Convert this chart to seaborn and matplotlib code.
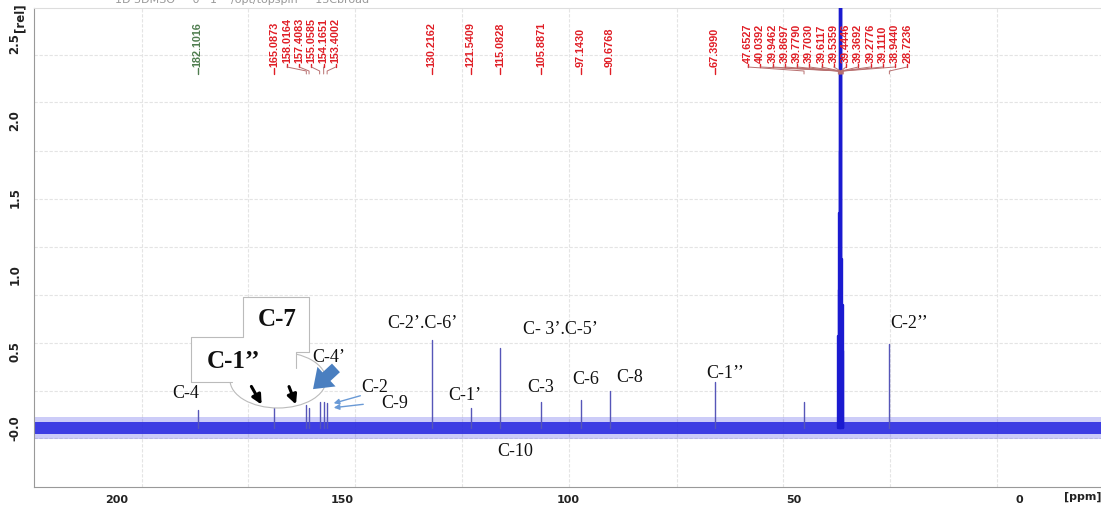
import matplotlib
matplotlib.use("Agg")
import matplotlib.pyplot as plt
import matplotlib.patches as mpatches
from matplotlib.ticker import MultipleLocator
import pandas as pd
import seaborn as sns

# ---------------- data ----------------
peak_ppm = [182.1016, 165.0873, 158.0164, 157.4083, 155.0585, 154.1651, 153.4002,
            130.2162, 121.5409, 115.0828, 105.8871, 97.1430, 90.6768, 67.3990,
            47.6527, 28.7236]
peak_height = [0.12, 0.19, 0.15, 0.13, 0.17, 0.17, 0.16,
               0.57, 0.13, 0.52, 0.17, 0.18, 0.24, 0.30,
               0.17, 0.55]
solvent_ppm = [40.0392, 39.9462, 39.8697, 39.7790, 39.7030, 39.6117, 39.5359,
               39.4446, 39.3692, 39.2776, 39.1110, 38.9440]
solvent_height = [0.6, 0.9, 1.4, 1.8, 3.0, 3.5, 4.0, 4.0, 3.5, 1.1, 0.8, 0.5]

single_labels = ["182.1016", "165.0873", "130.2162", "121.5409", "115.0828",
                 "105.8871", "97.1430", "90.6768", "67.3990"]
group1_labels = ["158.0164", "157.4083", "155.0585", "154.1651", "153.4002"]
group2_labels = ["47.6527", "40.0392", "39.9462", "39.8697", "39.7790", "39.7030",
                 "39.6117", "39.5359", "39.4446", "39.3692", "39.2776", "39.1110",
                 "38.9440", "28.7236"]

noise_outer = 0.07
noise_inner = 0.04

x_major = [200, 150, 100, 50, 0]
y_major = [0.0, 0.5, 1.0, 1.5, 2.0, 2.5]
y_major_labels = ["-0.0", "0.5", "1.0", "1.5", "2.0", "2.5"]

grid_x = [194.5, 171.0, 147.3, 123.4, 99.8, 75.8, 52.3, 28.6, 4.9]
grid_y = [2.43, 2.12, 1.80, 1.49, 1.18, 0.866, 0.553, 0.241, -0.065]

# ---------------- figure ----------------
sns.set_style("white")
W, H = 1101, 508
fig = plt.figure(figsize=(W / 100, H / 100), dpi=100)
ax = fig.add_axes([34 / W, 1 - 487 / H, 1 - 34 / W, (487 - 8) / H])

def P(x, y):
    return (x / W, 1 - y / H)

def rows(ppms, hs, grp):
    r = []
    for i, (p, h) in enumerate(zip(ppms, hs)):
        r += [(p, 0.0, grp, i), (p, h, grp, i)]
    return r

df = pd.DataFrame(rows(peak_ppm, peak_height, "c") + rows(solvent_ppm, solvent_height, "s"),
                  columns=["ppm", "intensity", "grp", "peak"])

xmin, xmax = 218.4, -18.2
ymin, ymax = -0.384, 2.734

for gx in grid_x:
    ax.axvline(gx, color="#e4e4e4", lw=0.8, ls=(0, (3, 1.5)), zorder=0)
for gy in grid_y:
    ax.axhline(gy, color="#e4e4e4", lw=0.8, ls=(0, (3, 1.5)), zorder=0)

# baseline noise band
ax.fill_between([xmin, xmax], -noise_outer, noise_outer, color="#4848e6", alpha=0.28, lw=0, zorder=2)
ax.fill_between([xmin, xmax], -noise_inner, noise_inner, color="#2424e0", alpha=0.85, lw=0, zorder=2)

sns.lineplot(data=df[df.grp == "c"], x="ppm", y="intensity", units="peak", sort=False,
             estimator=None, color="#5656b8", lw=1.0, ax=ax, zorder=3)
sns.lineplot(data=df[df.grp == "s"], x="ppm", y="intensity", units="peak", sort=False,
             estimator=None, color="#1a1ad0", lw=1.7, ax=ax, zorder=6)
ax.set_xlim(xmin, xmax)
ax.set_ylim(ymin, ymax)
ax.set_xlabel("")
ax.set_ylabel("")

# axes styling
ax.spines["right"].set_visible(False)
ax.spines["top"].set_color("#dddddd")
ax.spines["left"].set_color("#999999")
ax.spines["bottom"].set_color("#999999")
ax.set_xticks(x_major)
ax.set_xticklabels([str(v) for v in x_major], fontsize=8, fontweight="bold", color="#222222")
ax.xaxis.set_minor_locator(MultipleLocator(10))
ax.set_yticks(y_major)
ax.set_yticklabels(y_major_labels, rotation=90, va="center", fontsize=8.5, fontweight="bold",
                   color="#222222")
ax.yaxis.set_minor_locator(MultipleLocator(0.1))
ax.tick_params(axis="both", which="both", direction="out", color="#999999", width=0.8)
ax.tick_params(axis="x", which="both", length=4, pad=2)
ax.tick_params(axis="y", which="major", length=6, pad=3)
ax.tick_params(axis="y", which="minor", length=5)

fig.text(*P(1083, 497), "[ppm]", fontsize=8, fontweight="bold", ha="center", va="center", color="#222222")
fig.text(*P(20, 18), "[rel]", fontsize=8.5, fontweight="bold", rotation=90, ha="center", va="center",
         color="#222222")
fig.text(*P(115, 3), "1D 3DMSO     0   1    /opt/topspin     13Cbroad", fontsize=8, color="#999999",
         ha="left", va="baseline")

# ---------------- peak labels at top ----------------
fig.canvas.draw()
def px_of(ppm):
    return ax.transData.transform((ppm, 0))[0]

lab_font = dict(family=["Liberation Sans", "DejaVu Sans"], fontsize=7.8, fontweight="bold",
                rotation=90, ha="center", va="bottom")
red = "#e01e26"
for lab in single_labels:
    x = px_of(float(lab))
    col = "#4f7d4f" if lab == "182.1016" else red
    fig.text(*P(x, 67), lab, color=col, **lab_font)
    fig.add_artist(plt.Line2D([x / W, x / W], [1 - 68 / H, 1 - 74 / H], color=col, lw=1.0))

def group(labels, x0, step):
    for i, lab in enumerate(labels):
        lx = x0 + i * step
        x = px_of(float(lab))
        fig.text(*P(lx, 63), lab, color=red, **lab_font)
        fig.add_artist(plt.Line2D([lx / W, lx / W], [1 - 64 / H, 1 - 67 / H], color=red, lw=1.0))
        fig.add_artist(plt.Line2D([lx / W, x / W, x / W], [1 - 67 / H, 1 - 71 / H, 1 - 74 / H],
                                  color="#b87070", lw=0.7))

group(group1_labels, 287, 12.2)
group(group2_labels, 748, 12.25)

# ---------------- assignment annotations ----------------
serif = dict(family=["Liberation Serif", "DejaVu Serif"], color="#111111", ha="center", va="center")
ann = [("C-4", 186, 393), ("C-2\u2019.C-6\u2019", 422, 323), ("C- 3\u2019.C-5\u2019", 560, 330),
       ("C-1\u2019", 465, 395), ("C-3", 541, 387), ("C-6", 586, 380), ("C-8", 630, 378),
       ("C-1\u2019\u2019", 725, 373), ("C-2\u2019\u2019", 909, 323), ("C-2", 375, 387),
       ("C-9", 395, 404), ("C-10", 515, 452), ("C-4\u2019", 329, 358)]
for t, x, y in ann:
    fig.text(*P(x, y), t, fontsize=13, zorder=8, **serif)

# callout shape
ell = mpatches.Ellipse(P(278, 380), 96 / W, 56 / H, transform=fig.transFigure,
                       facecolor="white", edgecolor="#bbbbbb", lw=0.8, zorder=1.5)
fig.add_artist(ell)
poly_pts = [P(232, 382), P(191, 382), P(191, 337), P(243, 337), P(243, 297), P(309, 297),
            P(309, 352), P(296, 352), P(296, 368), P(278, 380)]
fig.add_artist(mpatches.Polygon(poly_pts, closed=True, transform=fig.transFigure,
                                facecolor="white", edgecolor="none", zorder=1.6))
xs, ys = zip(*poly_pts[:-1])
fig.add_artist(plt.Line2D(xs, ys, color="#bbbbbb", lw=0.8, zorder=1.7))
fig.text(*P(277, 320), "C-7", fontsize=18, fontweight="bold", zorder=8, **serif)
fig.text(*P(233, 361), "C-1\u2019\u2019", fontsize=18, fontweight="bold", zorder=8, **serif)

# arrows
for (x0, y0, x1, y1) in [(250, 384, 263, 407), (288, 384, 297, 407)]:
    fig.add_artist(mpatches.FancyArrowPatch(P(x0, y0), P(x1, y1), transform=fig.transFigure,
                   arrowstyle="-|>", mutation_scale=14, color="black", lw=2.2, zorder=9))
fig.add_artist(mpatches.FancyArrowPatch(P(338, 366), P(311, 391), transform=fig.transFigure,
               arrowstyle="simple,head_width=1.6,head_length=1.1,tail_width=0.7",
               mutation_scale=12, color="#4a7fc0", lw=0, zorder=9))
for (x0, y0, x1, y1) in [(363, 395, 331, 404), (366, 404, 331, 408)]:
    fig.add_artist(mpatches.FancyArrowPatch(P(x0, y0), P(x1, y1), transform=fig.transFigure,
                   arrowstyle="-|>", mutation_scale=8, color="#6a9ad6", lw=1.0, zorder=9))

fig.savefig("out.png", dpi=100)
